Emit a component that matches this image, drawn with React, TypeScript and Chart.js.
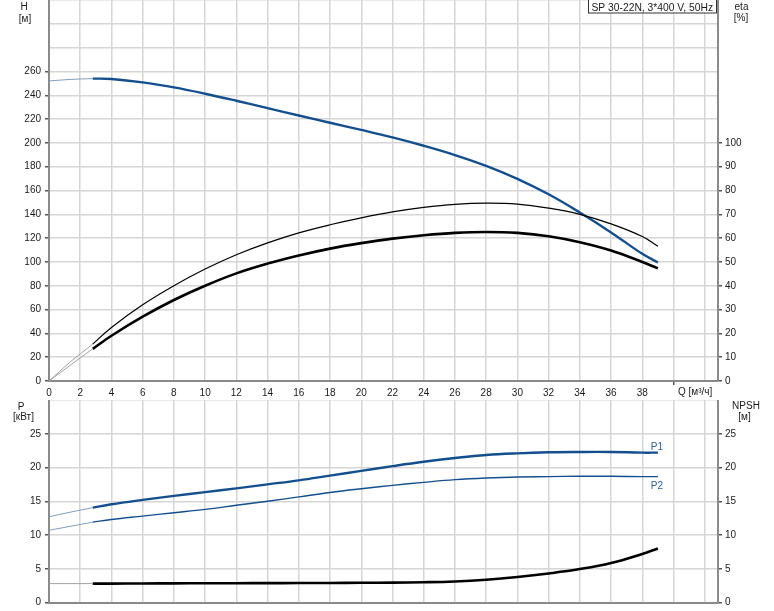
import React, { useEffect, useRef } from 'react';
import { Chart, registerables } from 'chart.js';
Chart.register(...registerables);

// ---------- data ----------
const FLOW_EXT = [0, 1.4, 2.8];
const FLOW = [2.8, 4, 6, 8, 10, 12, 14, 16, 18, 20, 22, 24, 26, 28, 30, 32, 34, 36, 38, 39];

const HEAD_EXT = [252, 253.3, 254];
const HEAD = [254, 253.6, 250.8, 246.6, 241.3, 235.4, 229.2, 223, 216.9, 210.9, 204.6, 197.6, 189.8, 180.7, 169.8, 156.8, 141.5, 124.8, 106.8, 99.5];

const ETA_PUMP_EXT = [0, 8.2, 15.5];
const ETA_PUMP = [15.5, 22.5, 32, 40, 47, 53, 58, 62.2, 65.6, 68.5, 71, 72.9, 74.2, 74.7, 74.3, 72.6, 70, 66, 60.7, 56.6];

const ETA_TOTAL_EXT = [0, 6.8, 13.5];
const ETA_TOTAL = [13.5, 19, 27, 34, 40, 45.2, 49.3, 52.7, 55.6, 57.9, 59.8, 61.2, 62.2, 62.6, 62.2, 60.8, 58.3, 54.8, 50, 47.3];

const P1_EXT = [12.7, 13.4, 14.05];
const P1 = [14.05, 14.55, 15.2, 15.8, 16.35, 16.9, 17.5, 18.1, 18.8, 19.5, 20.2, 20.85, 21.4, 21.85, 22.1, 22.25, 22.3, 22.3, 22.2, 22.2];

const P2_EXT = [10.7, 11.3, 11.9];
const P2 = [11.9, 12.3, 12.8, 13.3, 13.8, 14.4, 15.0, 15.65, 16.3, 16.85, 17.35, 17.8, 18.2, 18.45, 18.6, 18.65, 18.7, 18.7, 18.65, 18.65];

const NPSH_EXT = [2.8, 2.8, 2.8];
const NPSH = [2.8, 2.8, 2.82, 2.84, 2.85, 2.86, 2.87, 2.88, 2.9, 2.92, 2.95, 3.0, 3.12, 3.38, 3.78, 4.3, 4.95, 5.85, 7.2, 8.0];

// ---------- axes ----------
const Q_TICKS = [0, 2, 4, 6, 8, 10, 12, 14, 16, 18, 20, 22, 24, 26, 28, 30, 32, 34, 36, 38, 40, 42];
const Q_MAX = 42.85;
const Q_LABEL_MAX = 38;
const Q_TICK_MARK = 40;
const H_TICKS = [0, 20, 40, 60, 80, 100, 120, 140, 160, 180, 200, 220, 240, 260, 280, 300, 320];
const H_LABEL_MAX = 260;
const ETA_TICKS = [0, 10, 20, 30, 40, 50, 60, 70, 80, 90, 100, 110, 120, 130, 140, 150, 160];
const ETA_LABEL_MAX = 100;
const P_TICKS = [0, 5, 10, 15, 20, 25, 30];
const P_LABEL_MAX = 25;

const TITLE = 'SP 30-22N, 3*400 V, 50Hz';
const FONT = "'Liberation Sans', Arial, sans-serif";
const BLUE = '#134f8f';
const BLUE_THIN = '#7f9cbf';
const BLACK = '#000000';
const GRAY_THIN = '#a0a0a0';
const GRID = '#d6d6d6';
const AXIS = '#8a8a8a';
const TEXT = '#1a1a1a';

const W = 774;
const TOP_H = 400;
const BOT_H = 211;
const PLOT_LEFT = 49;
const PLOT_RIGHT = 718;

function ds(xs: number[], ys: number[], color: string, width: number, axis: string) {
  return {
    data: xs.map((x, i) => ({ x, y: ys[i] })),
    borderColor: color,
    backgroundColor: color,
    borderWidth: width,
    pointRadius: 0,
    tension: 0.4,
    fill: false,
    yAxisID: axis,
  };
}

function zeroPad(scale: any) {
  scale.paddingTop = 0;
  scale.paddingBottom = 0;
  scale.paddingLeft = 0;
  scale.paddingRight = 0;
}

function xScale(showLabels: boolean, height: number) {
  return {
    type: 'linear',
    min: 0,
    max: Q_MAX,
    afterBuildTicks: (s: any) => { s.ticks = Q_TICKS.map((v) => ({ value: v })); },
    afterFit: (s: any) => { s.height = height; zeroPad(s); },
    grid: {
      color: GRID,
      lineWidth: 1.5,
      tickLength: 4,
      tickColor: (c: any) => (showLabels && c.tick && c.tick.value === Q_TICK_MARK ? '#555' : 'rgba(0,0,0,0)'),
    },
    border: { color: AXIS, width: 2 },
    ticks: {
      display: showLabels,
      autoSkip: false,
      maxRotation: 0,
      padding: 2,
      color: TEXT,
      font: { family: FONT, size: 10 },
      callback: (v: any) => (v <= Q_LABEL_MAX ? String(v) : ''),
    },
  };
}

function yScale(ticks: number[], labelMax: number, pos: string, width: number, onArea: boolean) {
  return {
    type: 'linear',
    position: pos,
    min: ticks[0],
    max: ticks[ticks.length - 1],
    afterBuildTicks: (s: any) => { s.ticks = ticks.map((v) => ({ value: v })); },
    afterFit: (s: any) => { s.width = width; zeroPad(s); },
    grid: {
      drawOnChartArea: onArea,
      color: GRID,
      lineWidth: 1.5,
      tickLength: 4,
      tickColor: (c: any) => (c.tick && c.tick.value <= labelMax ? '#555' : 'rgba(0,0,0,0)'),
    },
    border: { color: AXIS, width: 2 },
    ticks: {
      padding: pos === 'left' ? 4 : 3,
      color: TEXT,
      font: { family: FONT, size: 10 },
      callback: (v: any) => (v <= labelMax ? String(v) : ''),
    },
  };
}

const topText = {
  id: 'topText',
  afterDraw(chart: any) {
    const ctx = chart.ctx;
    ctx.save();
    ctx.font = `10px ${FONT}`;
    ctx.fillStyle = TEXT;
    ctx.textBaseline = 'alphabetic';
    ctx.textAlign = 'center';
    ctx.fillText('H', 24, 9.5);
    ctx.fillText('[м]', 25, 21.5);
    ctx.fillText('eta', 741.5, 9.5);
    ctx.fillText('[%]', 741, 21);
    ctx.textAlign = 'left';
    ctx.fillText('Q [м³/ч]', 678, 395);
    // title box
    ctx.fillStyle = '#ffffff';
    ctx.fillRect(588.5, -1, 128, 14);
    ctx.strokeStyle = '#333';
    ctx.lineWidth = 1;
    ctx.strokeRect(588.5, -1, 128, 14);
    ctx.fillStyle = TEXT;
    ctx.font = `10.3px ${FONT}`;
    ctx.fillText(TITLE, 591.5, 10.5);
    ctx.restore();
  },
};

const bottomText = {
  id: 'bottomText',
  afterDraw(chart: any) {
    const ctx = chart.ctx;
    ctx.save();
    ctx.font = `10px ${FONT}`;
    ctx.fillStyle = TEXT;
    ctx.textBaseline = 'alphabetic';
    ctx.textAlign = 'center';
    ctx.fillText('P', 21, 9.5);
    ctx.fillText('[кВт]', 23.5, 20);
    ctx.fillText('NPSH', 746, 9);
    ctx.fillText('[м]', 744.5, 20);
    const xs = chart.scales.x;
    const ys = chart.scales.y;
    const lastQ = FLOW[FLOW.length - 1];
    ctx.fillStyle = '#2a5fa5';
    ctx.fillText('P1', xs.getPixelForValue(lastQ) - 1, ys.getPixelForValue(P1[P1.length - 1]) - 3);
    ctx.fillText('P2', xs.getPixelForValue(lastQ) - 1, ys.getPixelForValue(P2[P2.length - 1]) + 12);
    ctx.restore();
  },
};

export default function App() {
  const topRef = useRef<HTMLCanvasElement>(null);
  const botRef = useRef<HTMLCanvasElement>(null);

  useEffect(() => {
    const common = {
      animation: false,
      responsive: false,
      devicePixelRatio: 1,
      events: [],
      layout: { padding: 0 },
      plugins: { legend: { display: false }, tooltip: { enabled: false } },
    };
    const top = new Chart(topRef.current as HTMLCanvasElement, {
      type: 'line',
      data: {
        datasets: [
          ds(FLOW_EXT, ETA_PUMP_EXT, GRAY_THIN, 1, 'y2'),
          ds(FLOW_EXT, ETA_TOTAL_EXT, GRAY_THIN, 1, 'y2'),
          ds(FLOW_EXT, HEAD_EXT, BLUE_THIN, 1, 'y'),
          ds(FLOW, ETA_PUMP, BLACK, 1.2, 'y2'),
          ds(FLOW, ETA_TOTAL, BLACK, 2.6, 'y2'),
          ds(FLOW, HEAD, BLUE, 2.4, 'y'),
        ] as any,
      },
      options: {
        ...common,
        scales: {
          x: xScale(true, TOP_H - 381),
          y: yScale(H_TICKS, H_LABEL_MAX, 'left', PLOT_LEFT, true),
          y2: yScale(ETA_TICKS, ETA_LABEL_MAX, 'right', W - PLOT_RIGHT, false),
        },
      } as any,
      plugins: [topText],
    });
    const bot = new Chart(botRef.current as HTMLCanvasElement, {
      type: 'line',
      data: {
        datasets: [
          ds(FLOW_EXT, NPSH_EXT, GRAY_THIN, 1, 'y2'),
          ds(FLOW_EXT, P2_EXT, BLUE_THIN, 1, 'y'),
          ds(FLOW_EXT, P1_EXT, BLUE_THIN, 1, 'y'),
          ds(FLOW, NPSH, BLACK, 2.6, 'y2'),
          ds(FLOW, P2, BLUE, 1.4, 'y'),
          ds(FLOW, P1, BLUE, 2.4, 'y'),
        ] as any,
      },
      options: {
        ...common,
        scales: {
          x: xScale(false, BOT_H - 202.5),
          y: yScale(P_TICKS, P_LABEL_MAX, 'left', PLOT_LEFT, true),
          y2: yScale(P_TICKS, P_LABEL_MAX, 'right', W - PLOT_RIGHT, false),
        },
      } as any,
      plugins: [bottomText],
    });
    return () => {
      top.destroy();
      bot.destroy();
    };
  }, []);

  return (
    <div style={{ position: 'absolute', left: 0, top: 0, width: W, height: TOP_H + BOT_H, background: '#fff' }}>
      <canvas ref={topRef} width={W} height={TOP_H} style={{ position: 'absolute', left: 0, top: 0, width: W, height: TOP_H }} />
      <canvas ref={botRef} width={W} height={BOT_H} style={{ position: 'absolute', left: 0, top: TOP_H, width: W, height: BOT_H }} />
    </div>
  );
}
